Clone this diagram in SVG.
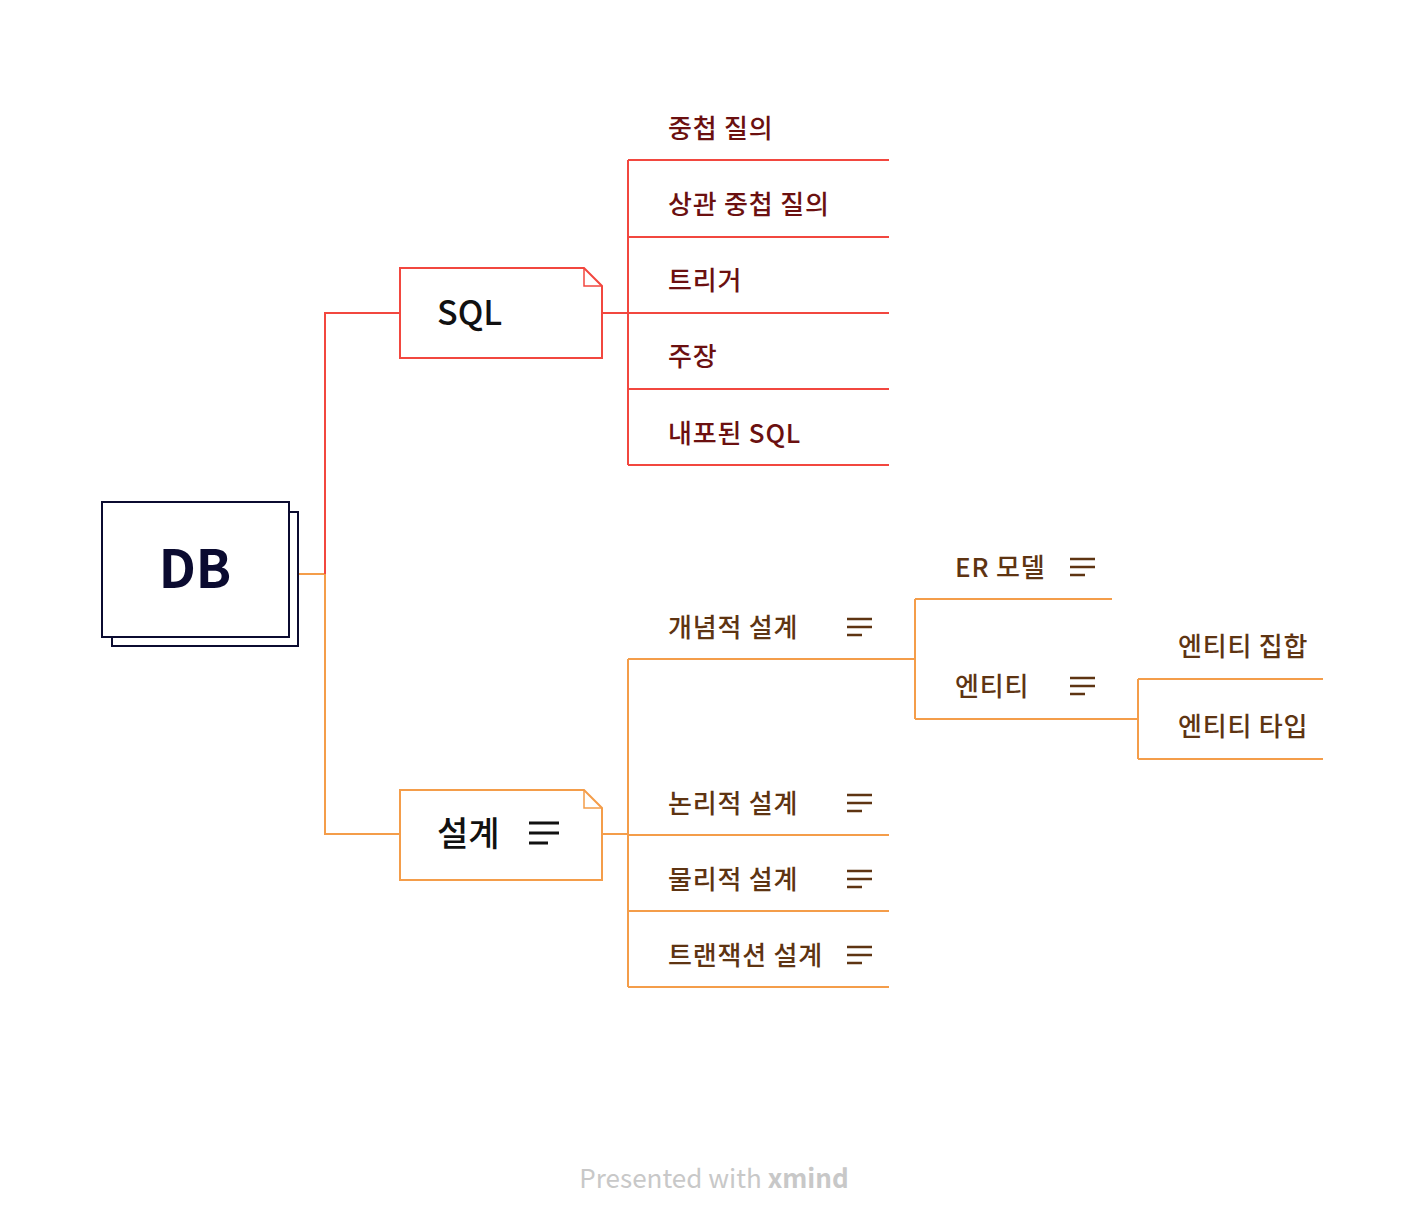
<svg xmlns="http://www.w3.org/2000/svg" width="1424" height="1228" viewBox="0 0 1424 1228">
<style>
text{font-family:"Noto Sans CJK KR","Noto Sans",sans-serif}
.red{stroke:#f2473f;stroke-width:2;fill:none}
.org{stroke:#f49d4a;stroke-width:2;fill:none}
.tr{fill:#6b1010;font-size:26px;font-weight:500;letter-spacing:0.8px}
.tb{fill:#5e3412;font-size:26px;font-weight:500;letter-spacing:0.8px}
.ib{stroke:#5e3412;stroke-width:2.4}
.ik{stroke:#111;stroke-width:3}
</style>
<rect width="1424" height="1228" fill="#fff"/>
<g id="connectors">
<path class="org" d="M298 574H325V834H400"/>
<path class="red" d="M325 574V313H400"/>
<path class="red" d="M602 313H628M628 160V465M628 160H889M628 237H889M628 313H889M628 389H889M628 465H889"/>
<path class="org" d="M602 834H628M628 659V987M628 659H915M628 835H889M628 911H889M628 987H889"/>
<path class="org" d="M915 599V719M915 599H1112M915 719H1138"/>
<path class="org" d="M1138 679V759M1138 679H1323M1138 759H1323"/>
</g>
<g id="node-db">
<rect x="112" y="512" width="186" height="134" fill="#fff" stroke="#0b0b30" stroke-width="2"/>
<rect x="102" y="502" width="187" height="135" fill="#fff" stroke="#0b0b30" stroke-width="2"/>
<text x="195" y="588" text-anchor="middle" font-size="52" font-weight="600" fill="#0b0b30">DB</text>
</g>
<g id="node-sql">
<path d="M400 268H584L602 286V358H400Z" fill="#fff" stroke="#f2473f" stroke-width="2"/>
<path d="M584 268V286H602" fill="none" stroke="#f2473f" stroke-width="1.5"/>
<text x="437" y="325" font-size="34" font-weight="500" fill="#111">SQL</text>
</g>
<g id="node-design">
<path d="M400 790H584L602 808V880H400Z" fill="#fff" stroke="#f49d4a" stroke-width="2"/>
<path d="M584 790V808H602" fill="none" stroke="#f49d4a" stroke-width="1.5"/>
<text x="437" y="846" font-size="34" font-weight="500" fill="#111">설계</text>
<path class="ik" d="M529 823H559M529 833H559M529 843H548"/>
</g>
<g id="node-s1"><text class="tr" x="668" y="138">중첩 질의</text></g>
<g id="node-s2"><text class="tr" x="668" y="214">상관 중첩 질의</text></g>
<g id="node-s3"><text class="tr" x="668" y="290">트리거</text></g>
<g id="node-s4"><text class="tr" x="668" y="366">주장</text></g>
<g id="node-s5"><text class="tr" x="668" y="443">내포된 SQL</text></g>
<g id="node-d1"><text class="tb" x="668" y="637">개념적 설계</text><path class="ib" d="M847 619H872M847 627H872M847 635H862"/></g>
<g id="node-d2"><text class="tb" x="668" y="813">논리적 설계</text><path class="ib" d="M847 795H872M847 803H872M847 811H862"/></g>
<g id="node-d3"><text class="tb" x="668" y="889">물리적 설계</text><path class="ib" d="M847 871H872M847 879H872M847 887H862"/></g>
<g id="node-d4"><text class="tb" x="668" y="965">트랜잭션 설계</text><path class="ib" d="M847 947H872M847 955H872M847 963H862"/></g>
<g id="node-er"><text class="tb" x="955" y="577">ER 모델</text><path class="ib" d="M1070 559H1095M1070 567H1095M1070 575H1085"/></g>
<g id="node-entity"><text class="tb" x="955" y="696">엔티티</text><path class="ib" d="M1070 678H1095M1070 686H1095M1070 694H1085"/></g>
<g id="node-eset"><text class="tb" x="1178" y="656">엔티티 집합</text></g>
<g id="node-etype"><text class="tb" x="1178" y="736">엔티티 타입</text></g>
<text x="714" y="1188" text-anchor="middle" font-size="26" fill="#c8c8c8">Presented with <tspan font-weight="700">xmind</tspan></text>
</svg>
